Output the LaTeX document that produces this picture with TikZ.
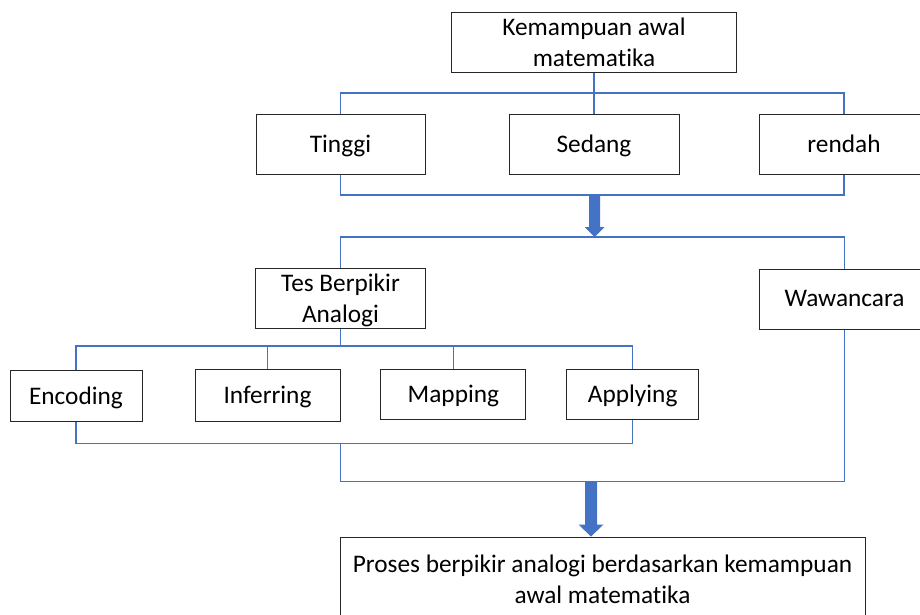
\documentclass[tikz,border=0pt]{standalone}
\usepackage{fontspec}
\setmainfont{Carlito}[Ligatures={NoCommon}]
\usetikzlibrary{calc}
\definecolor{connblue}{HTML}{4472C4}
\definecolor{boxline}{HTML}{262626}
\begin{document}
\begin{tikzpicture}[x=1pt,y=-1pt,
  box/.style={draw=boxline, line width=1pt, fill=white, inner sep=0pt, align=center, text depth=1pt, font=\fontsize{25.3}{31}\selectfont},
  link/.style={draw=connblue, line width=1.1pt},
  blockarrow/.style={fill=connblue, draw=none}]
\useasboundingbox (0,0) rectangle (920,614);
\clip (0,0) rectangle (920,614);

% nodes
\node[box, minimum width=284.5pt, minimum height=60.5pt] (kem) at (594,42.5) {Kemampuan awal\\matematika};
\node[box, minimum width=169pt, minimum height=60pt] (tinggi) at (340.5,144) {Tinggi};
\node[box, minimum width=170pt, minimum height=60pt] (sedang) at (594,144) {Sedang};
\node[box, minimum width=170pt, minimum height=60pt] (rendah) at (844,144) {rendah};
\node[box, minimum width=169.5pt, minimum height=60pt] (tes) at (340.5,298.5) {Tes Berpikir\\Analogi};
\node[box, minimum width=170pt, minimum height=60pt] (waw) at (844.5,299) {Wawancara};
\node[box, minimum width=132pt, minimum height=50.6pt] (enc) at (76,396) {Encoding};
\node[box, minimum width=145pt, minimum height=52pt] (inf) at (267.5,395.3) {Inferring};
\node[box, minimum width=145pt, minimum height=50pt] (map) at (453.4,394.3) {Mapping};
\node[box, minimum width=132pt, minimum height=50pt] (app) at (632.7,394.3) {Applying};
\node[box, minimum width=525pt, minimum height=86pt] (pro) at (602.5,580) {Proses berpikir analogi berdasarkan kemampuan\\awal matematika};

% junction coordinates
\coordinate (b1) at (594,93);
\coordinate (b2) at (594.5,195);
\coordinate (b3) at (594.5,237);
\coordinate (c1) at (340.5,346);
\coordinate (c2) at (340.5,443.3);
\coordinate (c3) at (591,481.5);

% connectors
\draw[link] (kem.south) -- (sedang.north);
\draw[link] (tinggi.north) |- (b1) -| (rendah.north);
\draw[link] (tinggi.south) |- (b2) -| (rendah.south);
\draw[link] (tes.north) |- (b3) -| (waw.north);
\draw[link] (tes.south) -- (c1);
\draw[link] (enc.north) |- (c1) -| (app.north);
\draw[link] (inf.north) -- (inf.north |- c1);
\draw[link] (map.north) -- (map.north |- c1);
\draw[link] (enc.south) |- (c2) -| (app.south);
\draw[link] (c2) |- (c3) -| (waw.south);

% block arrows
\fill[blockarrow] ($(b2)+(-5.5,0)$) -- ($(b3)+(-5.5,-10)$) -- ($(b3)+(-10,-10)$) -- (b3)
  -- ($(b3)+(10,-10)$) -- ($(b3)+(5.5,-10)$) -- ($(b2)+(5.5,0)$) -- cycle;
\coordinate (p1) at (pro.north -| c3);
\fill[blockarrow] ($(c3)+(-6,0)$) -- ($(p1)+(-6,-12)$) -- ($(p1)+(-12.5,-12)$) -- (p1)
  -- ($(p1)+(12.5,-12)$) -- ($(p1)+(6,-12)$) -- ($(c3)+(6,0)$) -- cycle;
\end{tikzpicture}
\end{document}
